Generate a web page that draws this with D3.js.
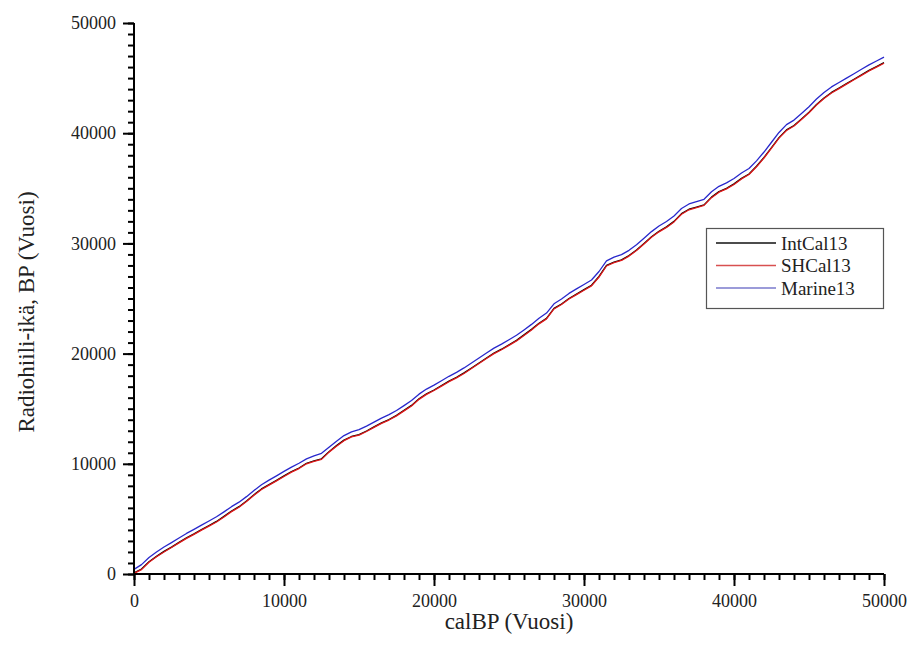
<!DOCTYPE html>
<html>
<head>
<meta charset="utf-8">
<script src="https://cdn.jsdelivr.net/npm/d3@7"></script>
<style>
	body { margin: 0; background: #fff; }
	svg { display: block; }
</style>
</head>
<body>
<svg id="chart" width="908" height="661"></svg>
<script>
// cal BP (years), every 500
var calBP = [0,500,1000,1500,2000,2500,3000,3500,4000,4500,
	5000,5500,6000,6500,7000,7500,8000,8500,9000,9500,
	10000,10500,11000,11500,12000,12500,13000,13500,14000,14500,
	15000,15500,16000,16500,17000,17500,18000,18500,19000,19500,
	20000,20500,21000,21500,22000,22500,23000,23500,24000,24500,
	25000,25500,26000,26500,27000,27500,28000,28500,29000,29500,
	30000,30500,31000,31500,32000,32500,33000,33500,34000,34500,
	35000,35500,36000,36500,37000,37500,38000,38500,39000,39500,
	40000,40500,41000,41500,42000,42500,43000,43500,44000,44500,
	45000,45500,46000,46500,47000,47500,48000,48500,49000,49500,
	50000];

var intcal13 = [100,450,1120,1600,2050,2440,2870,3280,3640,4030,
	4400,4770,5230,5710,6110,6620,7200,7720,8110,8500,
	8900,9300,9620,10050,10260,10450,11100,11650,12150,12480,
	12650,12980,13350,13720,14020,14400,14850,15300,15900,16350,
	16700,17100,17500,17850,18250,18700,19150,19600,20050,20400,
	20800,21200,21700,22200,22750,23200,24100,24500,25000,25400,
	25800,26200,27000,28000,28300,28500,28900,29400,30000,30600,
	31100,31500,32000,32700,33100,33300,33500,34200,34700,35000,
	35400,35900,36300,37000,37800,38700,39600,40300,40700,41300,
	41900,42600,43200,43700,44100,44500,44900,45300,45700,46050,
	46400];

var shcal13 = [50,400,1070,1560,2000,2400,2820,3230,3600,3980,
	4350,4720,5180,5660,6060,6570,7150,7670,8060,8450,
	8850,9250,9570,10000,10210,10400,11060,11600,12100,12440,
	12600,12930,13300,13670,13970,14350,14800,15250,15850,16300,
	16650,17050,17450,17800,18200,18650,19100,19550,20000,20350,
	20750,21150,21650,22150,22700,23150,24050,24450,24950,25350,
	25750,26150,26950,27950,28250,28450,28850,29350,29950,30550,
	31050,31450,31950,32650,33050,33250,33450,34150,34650,34950,
	35350,35850,36250,36950,37750,38650,39550,40250,40650,41250,
	41850,42550,43150,43650,44050,44450,44850,45250,45650,46000,
	46350];

var marine13 = [420,850,1500,1990,2450,2850,3270,3680,4050,4430,
	4810,5190,5640,6110,6520,7020,7580,8100,8520,8910,
	9310,9700,10050,10450,10720,10950,11500,12050,12560,12900,
	13100,13420,13780,14150,14460,14840,15280,15740,16320,16780,
	17140,17540,17940,18300,18700,19150,19600,20050,20500,20860,
	21260,21660,22150,22650,23200,23680,24520,24960,25460,25870,
	26270,26680,27450,28420,28760,28980,29370,29870,30470,31070,
	31580,31990,32480,33170,33580,33800,34000,34680,35180,35490,
	35890,36390,36800,37490,38290,39180,40070,40780,41190,41790,
	42400,43100,43690,44200,44600,45000,45400,45800,46200,46550,
	46900];

var seriesNames = ["IntCal13", "SHCal13", "Marine13"];
var seriesColors = ["#000000", "#e01818", "#2828cc"];
var legendColors = ["#111111", "#d85050", "#7a7acc"];
var majorTicks = [0, 10000, 20000, 30000, 40000, 50000];

var FONT = "'Liberation Serif', 'DejaVu Serif', serif";

var svg = d3.select("#chart");
var x = d3.scaleLinear().domain([0, 50000]).range([134, 884]);
var y = d3.scaleLinear().domain([0, 50000]).range([574, 23]);

var minorTicks = d3.range(0, 50001, 1000);

// curves
var allSeries = [intcal13, shcal13, marine13];
var line = d3.line()
	.x(function(d, i) { return x(calBP[i]); })
	.y(function(d) { return y(d); });

svg.append("g").selectAll("path")
	.data(allSeries)
	.join("path")
	.attr("fill", "none")
	.attr("stroke", function(d, i) { return seriesColors[i]; })
	.attr("stroke-width", 1.3)
	.attr("stroke-linejoin", "round")
	.attr("d", line);

// x axis: minor + major
var xMinor = svg.append("g").attr("transform", "translate(0,574)")
	.call(d3.axisBottom(x).tickValues(minorTicks).tickSize(6).tickFormat(""));
var xMajor = svg.append("g").attr("transform", "translate(0,574)")
	.call(d3.axisBottom(x).tickValues(majorTicks).tickSize(12).tickPadding(8).tickFormat(d3.format("d")));

var yMinor = svg.append("g").attr("transform", "translate(134,0)")
	.call(d3.axisLeft(y).tickValues(minorTicks).tickSize(6).tickFormat(""));
var yMajor = svg.append("g").attr("transform", "translate(134,0)")
	.call(d3.axisLeft(y).tickValues(majorTicks).tickSize(11).tickPadding(7).tickFormat(d3.format("d")));

[xMinor, xMajor, yMinor, yMajor].forEach(function(g) {
	g.attr("font-family", FONT).attr("font-size", 18);
	g.select(".domain").attr("stroke", "#000").attr("stroke-width", 2);
	g.selectAll(".tick line").attr("stroke", "#000").attr("stroke-width", 2);
	g.selectAll("text")
		.attr("fill", "#222")
		.style("font-family", FONT)
		.style("font-size", "18px");
});
xMajor.select(".domain").attr("d", "M134,0H884");
xMinor.select(".domain").attr("d", "M134,0H884");
yMajor.select(".domain").attr("d", "M0,574V23");
yMinor.select(".domain").attr("d", "M0,574V23");

// axis titles
svg.append("text")
	.attr("x", 509).attr("y", 629)
	.attr("text-anchor", "middle")
	.style("font-family", FONT).style("font-size", "23px")
	.attr("fill", "#222")
	.text("calBP (Vuosi)");

svg.append("text")
	.attr("transform", "translate(34,312) rotate(-90)")
	.attr("text-anchor", "middle")
	.style("font-family", FONT).style("font-size", "23px")
	.attr("fill", "#222")
	.text("Radiohiili-ikä, BP (Vuosi)");

// legend
var legend = svg.append("g");
legend.append("rect")
	.attr("x", 706.5).attr("y", 228.5)
	.attr("width", 177).attr("height", 80)
	.attr("fill", "#fff")
	.attr("stroke", "#555").attr("stroke-width", 1.2);

var rows = legend.selectAll("g.row")
	.data(seriesNames)
	.join("g")
	.attr("class", "row")
	.attr("transform", function(d, i) { return "translate(0," + (243 + i * 22.5) + ")"; });

rows.append("line")
	.attr("x1", 716).attr("x2", 776)
	.attr("stroke", function(d, i) { return legendColors[i]; })
	.attr("stroke-width", 1.3);

rows.append("text")
	.attr("x", 781).attr("dy", "0.35em")
	.style("font-family", FONT).style("font-size", "19px")
	.attr("fill", "#222")
	.text(function(d) { return d; });
</script>
</body>
</html>
